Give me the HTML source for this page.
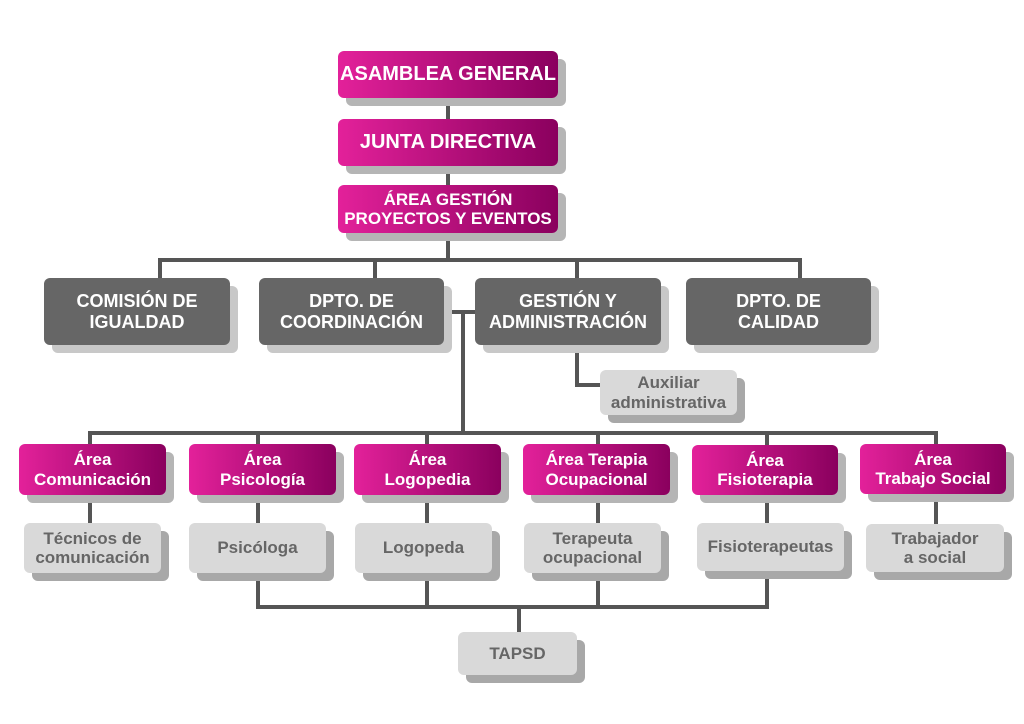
<!DOCTYPE html>
<html><head><meta charset="utf-8"><style>
body{margin:0;width:1024px;height:724px;background:#fff;position:relative;overflow:hidden;font-family:"Liberation Sans","DejaVu Sans",sans-serif;font-weight:bold}
.b{position:absolute;border-radius:6px;display:flex;align-items:center;justify-content:center;text-align:center;line-height:1.12;box-sizing:border-box}
.p{background:linear-gradient(90deg,#e3219a,#8a005e);color:#fff;box-shadow:8px 8px 0 #b5b5b5;font-size:17px}
.g{background:#666;color:#fff;box-shadow:8px 8px 0 #c8c8c8;font-size:18px}
.l{background:#d9d9d9;color:#666;box-shadow:8px 8px 0 #a8a8a8;font-size:17px}
.t{font-size:20px}
svg{position:absolute;left:0;top:0}
</style></head><body>
<svg width="1024" height="724"><g stroke="#555" stroke-width="4" fill="none">
<line x1="448" y1="98" x2="448" y2="119"/>
<line x1="448" y1="166" x2="448" y2="185"/>
<line x1="448" y1="233" x2="448" y2="260"/>
<polyline points="160,280 160,260 800,260 800,280"/>
<line x1="375" y1="260" x2="375" y2="280"/>
<line x1="577" y1="260" x2="577" y2="280"/>
<line x1="452" y1="312" x2="476" y2="312"/>
<line x1="463" y1="312" x2="463" y2="433"/>
<polyline points="577,345 577,385 600,385"/>
<polyline points="90,446 90,433 936,433 936,446"/>
<line x1="258" y1="433" x2="258" y2="446"/>
<line x1="427" y1="433" x2="427" y2="446"/>
<line x1="598" y1="433" x2="598" y2="446"/>
<line x1="767" y1="433" x2="767" y2="446"/>
<line x1="90" y1="495" x2="90" y2="524"/>
<line x1="258" y1="495" x2="258" y2="524"/>
<line x1="427" y1="495" x2="427" y2="524"/>
<line x1="598" y1="495" x2="598" y2="524"/>
<line x1="767" y1="495" x2="767" y2="524"/>
<line x1="936" y1="494" x2="936" y2="525"/>
<polyline points="258,573 258,607 767,607 767,573"/>
<line x1="427" y1="573" x2="427" y2="607"/>
<line x1="598" y1="573" x2="598" y2="607"/>
<line x1="519" y1="607" x2="519" y2="632"/>
</g></svg>
<div class="b p t" style="left:338px;top:51px;width:220px;height:47px">ASAMBLEA GENERAL</div>
<div class="b p t" style="left:338px;top:119px;width:220px;height:47px">JUNTA DIRECTIVA</div>
<div class="b p" style="left:338px;top:185px;width:220px;height:48px">ÁREA GESTIÓN<br>PROYECTOS Y EVENTOS</div>
<div class="b g" style="left:44px;top:278px;width:186px;height:67px">COMISIÓN DE<br>IGUALDAD</div>
<div class="b g" style="left:259px;top:278px;width:185px;height:67px">DPTO. DE<br>COORDINACIÓN</div>
<div class="b g" style="left:475px;top:278px;width:186px;height:67px">GESTIÓN Y<br>ADMINISTRACIÓN</div>
<div class="b g" style="left:686px;top:278px;width:185px;height:67px">DPTO. DE<br>CALIDAD</div>
<div class="b l" style="left:600px;top:370px;width:137px;height:45px">Auxiliar<br>administrativa</div>
<div class="b p" style="left:19px;top:444px;width:147px;height:51px">Área<br>Comunicación</div>
<div class="b p" style="left:189px;top:444px;width:147px;height:51px">Área<br>Psicología</div>
<div class="b p" style="left:354px;top:444px;width:147px;height:51px">Área<br>Logopedia</div>
<div class="b p" style="left:523px;top:444px;width:147px;height:51px">Área Terapia<br>Ocupacional</div>
<div class="b p" style="left:692px;top:445px;width:146px;height:50px">Área<br>Fisioterapia</div>
<div class="b p" style="left:860px;top:444px;width:146px;height:50px">Área<br>Trabajo Social</div>
<div class="b l" style="left:24px;top:523px;width:137px;height:50px">Técnicos de<br>comunicación</div>
<div class="b l" style="left:189px;top:523px;width:137px;height:50px">Psicóloga</div>
<div class="b l" style="left:355px;top:523px;width:137px;height:50px">Logopeda</div>
<div class="b l" style="left:524px;top:523px;width:137px;height:50px">Terapeuta<br>ocupacional</div>
<div class="b l" style="left:697px;top:523px;width:147px;height:48px">Fisioterapeutas</div>
<div class="b l" style="left:866px;top:524px;width:138px;height:48px">Trabajador<br>a social</div>
<div class="b l" style="left:458px;top:632px;width:119px;height:43px">TAPSD</div>
</body></html>
